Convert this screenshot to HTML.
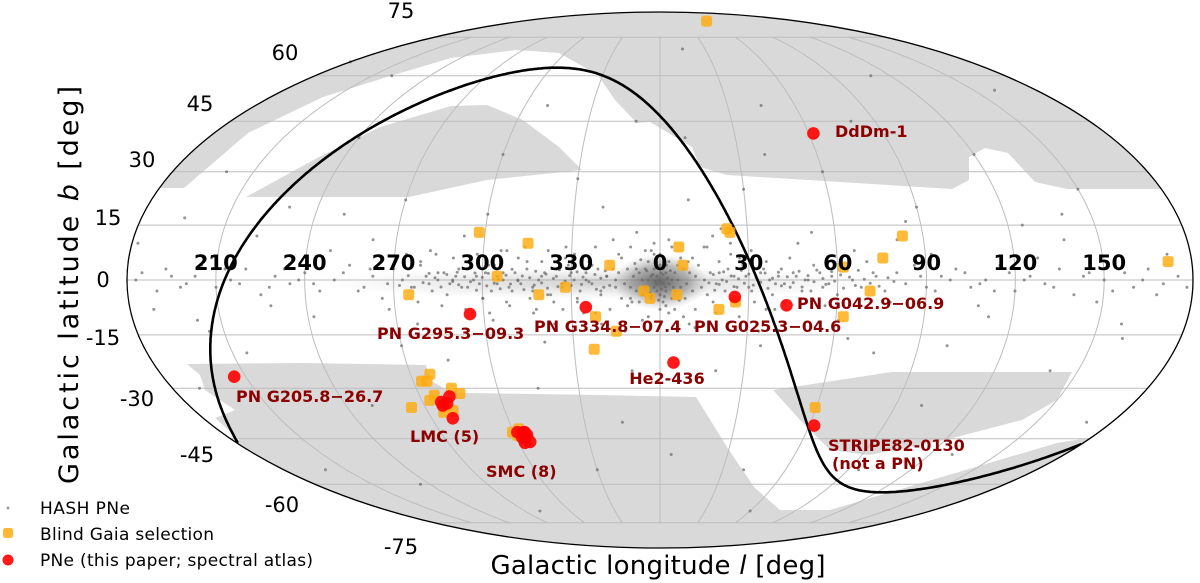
<!DOCTYPE html>
<html><head><meta charset="utf-8"><title>PNe sky map</title>
<style>
html,body{margin:0;padding:0;background:#fff;}
svg{display:block;font-family:"DejaVu Sans","Liberation Sans",sans-serif;}
</style></head>
<body>
<svg id="chart" width="1200" height="583" viewBox="0 0 1200 583" xmlns="http://www.w3.org/2000/svg">
<defs>
<clipPath id="skyclip"><ellipse cx="660" cy="280" rx="533" ry="268"/></clipPath>
<radialGradient id="bulge"><stop offset="0" stop-color="#555" stop-opacity="0.85"/><stop offset="0.6" stop-color="#666" stop-opacity="0.45"/><stop offset="1" stop-color="#999" stop-opacity="0"/></radialGradient>
<radialGradient id="plane"><stop offset="0" stop-color="#888" stop-opacity="0.4"/><stop offset="1" stop-color="#aaa" stop-opacity="0"/></radialGradient>
</defs>
<g id="footprint" clip-path="url(#skyclip)" fill="#d9d9d9">
<polygon points="90,188 159,188 184,188 248,133 323,97 387,77 451,58 516,50 559,53 598,75 615,100 637,123 650,122 692,147 700,167 727,175 952,189 969,180 969,157 985,148 1008,153 1035,182 1067,189 1250,189 1250,0 90,0"/>
<polygon points="246,197 319,157 380,127 451,106 487,105 523,120 559,147 582,170 487,180 409,197"/>
<polygon points="187,364 300,363 426,365 430,380 450,392 470,393 600,395 696,397 727,447 754,487 780,510 830,510 1057,443 1095,437 1250,430 1250,600 90,600 90,440 240,440 215,418 235,410 205,390 200,375"/>
<polygon points="773,390 892,372 1072,372 1057,400 1022,420 945,440 869,455 830,450 800,420"/>
</g>
<g id="grid" clip-path="url(#skyclip)"></g>
<ellipse cx="600" cy="283" rx="280" ry="16" fill="url(#plane)"/>
<ellipse cx="660" cy="282" rx="48" ry="28" fill="url(#bulge)"/>
<g id="hash"></g>
<g id="eq"></g>
<ellipse cx="660" cy="280" rx="533" ry="268" fill="none" stroke="#000" stroke-width="1.3"/>
<g id="gaia"></g>
<g id="pne"></g>
<g id="lonlabels" font-weight="bold" font-size="21" text-anchor="middle"></g>
<g id="latlabels" font-size="21" text-anchor="middle"></g>
<g fill="#8b0000" font-weight="bold" font-size="16">
<text x="835" y="137">DdDm-1</text>
<text x="797" y="309">PN G042.9−06.9</text>
<text x="694" y="332">PN G025.3−04.6</text>
<text x="534" y="332">PN G334.8−07.4</text>
<text x="377" y="339">PN G295.3−09.3</text>
<text x="236" y="402">PN G205.8−26.7</text>
<text x="667" y="384" text-anchor="middle">He2-436</text>
<text x="410" y="442">LMC (5)</text>
<text x="486" y="477">SMC (8)</text>
<text x="828" y="451">STRIPE82-0130</text>
<text x="832" y="469">(not a PN)</text>
</g>
<text transform="translate(78,285) rotate(-90)" text-anchor="middle" font-size="27" textLength="398">Galactic latitude  <tspan font-style="italic">b</tspan> [deg]</text>
<text x="658" y="574" text-anchor="middle" font-size="26" textLength="335">Galactic longitude  <tspan font-style="italic">l</tspan> [deg]</text>
<g font-size="17">
<g><circle cx="8" cy="508" r="1.5" fill="#999"/><text x="40" y="514" textLength="90">HASH PNe</text></g>
<g><rect x="3" y="528" width="10" height="10" rx="2.5" fill="#ffb01e" fill-opacity="0.9"/><text x="40" y="540" textLength="174">Blind Gaia selection</text></g>
<g><circle cx="8" cy="560" r="5.5" fill="#f00" fill-opacity="0.9"/><text x="40" y="566" textLength="273">PNe (this paper; spectral atlas)</text></g>
</g>
</svg>
<script>
const hashPNe = [
[0,0],[1,-1],[-1,1],[2,2],[-2,-2],[3,-1],[-3,1],[1,3],[-1,-3],[4,0],[-4,0],[0,4],[0,-4],[2,-3],[-2,3],[5,2],[-5,-2],[5,-3],[-5,3],[6,0],[-6,0],[3,5],[-3,-5],[1,-6],[-1,6],[7,-2],[-7,2],[8,3],[-8,-3],[2,-7],[-2,7],[9,-1],[-9,1],[4,-5],[-4,5],[6,4],[-6,-4],[0,-8],[0,7],[10,2],[-10,-2],[11,-3],[-11,3],[3,-9],[-3,8],[12,1],[-12,-1],[7,6],[-7,-6],[5,-8],[-5,8],[14,-2],[-14,2],[1,1.5],[-1.5,-0.5],[2.5,0.5],[-2.5,1.5],[0.5,-2.5],[1.5,-4.5],[-0.5,-5.5],[3.5,2.5],[-3.5,-3.5],[4.5,-2],[-4.5,2.5],[0.3,2],[-0.7,3.5],[1.8,-1.8],[-1.2,-1.2],[2.2,4],[-2.8,-4.2],[6.5,-5.5],[-6.5,5.5],[8.5,-5],[-8.5,4.5],[9.5,5],[-9.5,-6],[13,4],[-13,-5],[15,0],[-15,0],[11,6],[-11,-7],[4,9],[-4,-10],[16,-4],[-16,3],
[-18,1],[-19,-2],[-21,3],[-23,-1],[-25,2],[-27,-3],[-29,0],[-31,4],[-33,-2],[-35,1],[-37,-4],[-39,2],[-41,0],[-43,-3],[-45,3],[-47,-1],[-49,2],[-51,-2],[-53,0],[-55,1],[-57,-3],[-59,2],[-61,-1],[-63,0],[-65,3],[-67,-2],[-69,1],[-71,-1],[-73,2],[-75,0],[-77,-3],[-79,1],[-81,4],[-83,-2],[17,2],[19,-1],[21,0],[23,3],[26,-2],[29,1],[31,-3],[34,2],[37,0],[39,-1],[41,3],[44,-2],[46,1],[49,0],[51,-3],[54,2],[57,-1],[-20,-4],[-24,5],[-28,-5],[-32,6],[-36,-6],[-40,5],[-44,-5],[-48,6],[-52,-6],[-56,4],[-60,-5],[-64,5],[20,5],[24,-5],[32,-6],[36,5],[42,-6],[27,6],
[-17,-1.5],[-18.5,2.5],[-20,0.5],[-21.5,-2.5],[-22,1.5],[-24,-0.5],[-26,0.8],[-26.5,-1.2],[-28,2.2],[-30,-1.5],[-30.5,1.2],[-32,-0.3],[-34,2.8],[-34.5,-1.8],[-36,0.4],[-38,-2.2],[-38.5,1.6],[-40,-0.8],[-42,2.4],[-42.5,-1.4],[-44,0.6],[-46,-2.6],[-46.5,1.1],[-48,-0.2],[-50,2.9],[-50.5,-1.1],[-52,1.3],[-54,-2.4],[-54.5,0.2],[-56,-0.9],[-58,1.8],[-58.5,-1.6],[-60,0.7],[-62,-2.8],[-62.5,1.9],[-64,-0.5],[-66,0.9],[-68,-1.3],[-68.5,2.1],[-70,-0.4],[-72,1.5],[-74,-1.9],[-76,0.6],[-78,1.8],[-80,-0.7],[-85,1.2],[-88,-1.5],
[16.5,-0.8],[18,1.5],[18.5,-2.8],[20,-1.2],[21.5,2.2],[22.5,-0.4],[24,1.1],[25,-1.8],[26.5,0.3],[27.5,2.6],[28.5,-0.9],[30,1.6],[31.5,-1.4],[32.5,0.8],[34,-0.6],[35.5,1.9],[36.5,-2.3],[38,0.5],[40,2.1],[41,-1.6],[43,0.9],[45,-0.7],[47,2.4],[48,-1.9],[50,1.2],[52,-0.5],[53,2.7],[55,0.4],[56,-1.2],[58,2.3],[59,-0.3],[61,1.4],[62,-2.2],[64,0.8],[66,-1.5],[67,2.6],[69,0.2],[71,-0.9],[72,2],[74,-1.7],[77,0.6],[79,-0.4],
[-2,10],[3,11],[-6,-11],[8,-10],[-10,9],[12,-8],[-14,7],[15,9],[-17,-8],[19,-9],[-22,9],[24,10],[-26,-9],[-29,7],[31,8],[-33,-8],[-38,8],[39,-8],[-43,-9],[-46,9],[-51,-7],[-54,8],[-58,-9],[-62,7],[-66,-8],[-70,6],[-74,-7],[-78,8],[-82,-6],[-86,7],[10,-12],[-8,13],[6,-14],[-12,-14],[18,12],[-20,-12],
[20,2],[22,-3],[25,1],[28,4],[30,-2],[33,0],[35,3],[38,-4],[40,1],[42,-1],[45,2],[48,-3],[50,0],[52,4],[55,-2],[58,1],[60,-4],[63,3],[65,0],[68,-2],[70,5],[73,1],[76,-3],[80,2],[83,-1],[86,4],[90,-2],[95,1],[100,3],[105,-2],[110,0],[115,4],[120,-3],[125,1],[130,-1],[135,3],[140,-4],[145,2],[150,0],[160,-2],[165,3],[170,-1],[175,1],[185,2],[190,-3],[195,1],[200,-1],[205,4],[210,-2],[215,0],[220,3],[225,-4],[230,1],[235,-1],[240,2],[245,-3],[250,0],[255,4],[260,-2],[263,1],[266,-5],[270,3],[273,0],[276,-2],[279,5],[282,-1],[285,2],[288,-4],[290,0],[292,3],[295,-2],[298,1],[300,-5],[302,4],[305,-1],[307,2],[310,-3],[312,0],[315,5],[317,-2],[320,1],[322,-4],[325,3],[327,-1],[330,2],[332,-6],[335,0],[337,4],[340,-3],[342,1],[345,-2],[347,6],[350,-5],[352,3],
[88,1],[93,-3],[98,0],[103,2],[108,-1],[113,-3],[118,2],[123,0],[133,-2],[143,1],[153,-3],[157,2],[163,0],[168,-4],[178,-2],[183,0],[193,3],[198,-2],[203,1],[213,3],[218,-1],[228,-2],[233,3],[238,0],[243,-1],[253,2],[258,-3],[262,3],[268,-1],
[18,-6],[24,7],[36,-8],[44,6],[56,-7],[66,8],[78,-6],[92,7],[108,-7],[128,6],[148,-6],[172,7],[188,-8],[208,6],[228,-7],[248,8],[268,-8],[284,7],[296,-9],[308,8],[318,-8],[328,9],[338,-9],[16,9],[27,-10],[47,10],[61,-11],[81,11],[112,-10],[138,11],[158,-12],[182,10],[202,-11],[222,12],[242,-10],[262,11],[277,-12],[293,12],[303,-11],[324,-12],[344,11],[12,-13],[21,14],[34,-14],[52,13],
[30,25],[60,30],[90,20],[120,35],[150,25],[200,30],[240,40],[270,22],[300,35],[330,28],[10,40],[45,50],[80,45],[110,60],[160,55],[220,60],[260,55],[310,50],[350,45],[20,-25],[50,-30],[75,-20],[100,-35],[140,-25],[170,-40],[190,-30],[215,-20],[250,-35],[285,-22],[315,-30],[345,-40],[5,-50],[40,-55],[95,-55],[130,-50],[200,-55],[235,-60],[330,-55],[15,70],[180,65],[280,-70],[60,-70],[340,20],[250,18],[195,17],[100,-18],[35,-18],[320,-17],[10,22],[350,-25],[125,15],[65,-16],[270,-18],[230,20],[160,-16],[85,16],[40,35],[300,18],[205,-14],[140,18]
];
const gaiaL = [61,298,315,343,305,328,275,319,338,337,354.6,356.6,5.7,20,25.6,71,62.5,75.5,83,172,6.4,7.7,23,24,62,345,277,273,275,264.6,275.6,283,285.4,276,280,273,299.5,302.6,301,59.6];
const gaiaB = [83,13,10,4,1,-2,-4,-4,-10,-19,-3,-5,-4,-8,-6,-3,-10,6,12,5,9,4,14,13,3.5,-14,-26,-28,-28,-35.6,-32,-30,-31.5,-37,-36.5,-33.5,-43,-42,-44,-35.6];
const pneL = [295.3,334.8,25.3,42.9,205.8,4.8,61.9,62,277,279,281,277,278.3,304,305,302.6,302.5,305,301.5,304.5,304];
const pneB = [-9.3,-7.4,-4.6,-6.9,-26.7,-22.7,41.3,-41,-34,-34.4,-32.4,-35,-38.8,-43,-43.8,-46.3,-44.7,-46,-43,-43,-44.5];
const lonTicks = [210,240,270,300,330,0,30,60,90,120,150];
const latTicks = [75,60,45,30,15,0,-15,-30,-45,-60,-75];
const latLabelPos = [[401,11],[285,53],[200,104],[142,160],[108,218],[103,280],[103,338],[137,399],[197,455],[282,505],[401,547]];

const NS='http://www.w3.org/2000/svg';
const CX=660, CY=280, W=533, H=268, D=Math.PI/180;
function theta(b){
  if(Math.abs(b)>=90) return Math.sign(b)*Math.PI/2;
  const p=b*D; let t=p;
  for(let i=0;i<30;i++){ t-=(2*t+Math.sin(2*t)-Math.PI*Math.sin(p))/(2+2*Math.cos(2*t)); }
  return t;
}
function wrap(l){ let v=((l+180)%360+360)%360-180; return v; }
function proj(l,b,noWrap){
  const lw = noWrap? l : wrap(l); const t=theta(b);
  return [CX+W*(lw/180)*Math.cos(t), CY-H*Math.sin(t)];
}
function mk(tag,attrs,parent){ const e=document.createElementNS(NS,tag); for(const k in attrs) e.setAttribute(k,attrs[k]); parent.appendChild(e); return e; }

const grid=document.getElementById('grid');
for(let b=-75;b<=75;b+=15){
  let d=''; for(let l=-180;l<=180;l+=2){ const p=proj(l,b,true); d+=(l===-180?'M':'L')+p[0].toFixed(1)+','+p[1].toFixed(1); }
  const e=mk('path',{d:d,fill:'none',stroke:'#bdbdbd','stroke-width':1},grid);
  
  
}
for(let l=-150;l<=150;l+=30){
  let d=''; for(let b=-75;b<=75;b+=1){ const p=proj(l,b,true); d+=(b===-75?'M':'L')+p[0].toFixed(1)+','+p[1].toFixed(1); }
  const e=mk('path',{d:d,fill:'none',stroke:'#bdbdbd','stroke-width':1},grid);
  
  
}

const hg=document.getElementById('hash');
hashPNe.forEach(function(pt){
  const p=proj(pt[0],pt[1]);
  const c=mk('circle',{cx:p[0].toFixed(1),cy:p[1].toFixed(1),r:1.5,fill:'#666','fill-opacity':0.7},hg);
  
  
});

(function(){
  const aG=192.85948, dG=27.12825, lN=122.93192;
  const eg=document.getElementById('eq');
  let d='', prev=null;
  for(let a=0;a<=360;a+=0.5){
    const da=(a-aG)*D;
    const sb=Math.cos(dG*D)*Math.cos(da);
    const b=Math.asin(sb)/D;
    const l=lN-Math.atan2(Math.sin(da),-Math.sin(dG*D)*Math.cos(da))/D;
    const lw=wrap(l);
    const p=proj(lw,b,true);
    d+=((prev===null||Math.abs(lw-prev)>180)?'M':'L')+p[0].toFixed(1)+','+p[1].toFixed(1);
    prev=lw;
  }
  const e=mk('path',{d:d,fill:'none',stroke:'#000','stroke-width':2.6,'clip-path':'url(#skyclip)'},eg);
  
  
})();

const gg=document.getElementById('gaia');
gaiaL.forEach(function(l,i){
  const p=proj(l,gaiaB[i]);
  const r=mk('rect',{x:(p[0]-5.5).toFixed(1),y:(p[1]-5.5).toFixed(1),width:11,height:11,rx:2.5,fill:'#ffab0f','fill-opacity':0.82},gg);
  
  
});

const pg=document.getElementById('pne');
pneL.forEach(function(l,i){
  const p=proj(l,pneB[i]);
  const c=mk('circle',{cx:p[0].toFixed(1),cy:p[1].toFixed(1),r:6.3,fill:'#f00','fill-opacity':0.9},pg);
  
  
});

const lg=document.getElementById('lonlabels');
lonTicks.forEach(function(l){
  const p=proj(l,0);
  const t=mk('text',{x:p[0].toFixed(1),y:270},lg);
  t.textContent=String(l);
  
  
});
const tg=document.getElementById('latlabels');
latTicks.forEach(function(b,i){
  const t=mk('text',{x:latLabelPos[i][0],y:latLabelPos[i][1]+7},tg);
  t.textContent=String(b);
  
  
});
</script>
</body></html>
